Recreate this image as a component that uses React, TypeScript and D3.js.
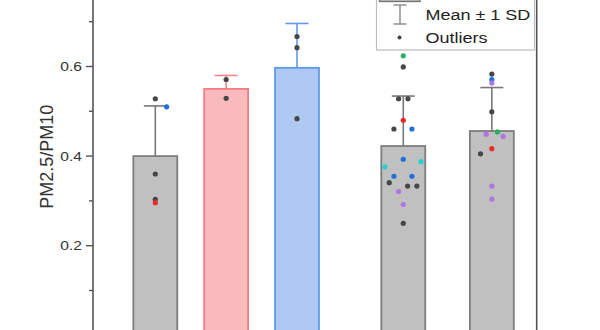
import React from "react";
import * as d3 from "d3";

// ---- data ----
const categories = ["G1", "G2", "G3", "G4", "G5"];
const categoryX = [1, 2, 3, 4.5, 5.75];
const means = [0.4, 0.55, 0.597, 0.4225, 0.456];
const sds = [0.112, 0.03, 0.099, 0.1115, 0.097];
const yTicks = [0, 0.2, 0.4, 0.6];
const yMinorTicks = [0.1, 0.3, 0.5, 0.7];
const legendLabels = ["Mean ± 1 SD", "Outliers"];

// points: [category index, value, x offset (axis units), colour key]
const points: [number, number, number, string][] = [
  [0, 0.528, 0, "k"],
  [0, 0.51, 0.16, "b"],
  [0, 0.36, 0, "k"],
  [0, 0.3035, 0, "k"],
  [0, 0.296, 0, "r"],
  [1, 0.571, 0, "k"],
  [1, 0.529, 0, "k"],
  [2, 0.667, 0, "k"],
  [2, 0.642, 0, "k"],
  [2, 0.4835, 0, "k"],
  [3, 0.624, 0, "g"],
  [3, 0.599, 0, "k"],
  [3, 0.528, -0.066, "k"],
  [3, 0.528, 0.066, "k"],
  [3, 0.48, 0, "r"],
  [3, 0.4605, -0.132, "k"],
  [3, 0.4605, 0.122, "b"],
  [3, 0.393, 0, "b"],
  [3, 0.376, -0.26, "c"],
  [3, 0.3875, 0.25, "c"],
  [3, 0.355, -0.132, "b"],
  [3, 0.355, 0.122, "b"],
  [3, 0.3406, -0.198, "k"],
  [3, 0.333, 0.061, "k"],
  [3, 0.333, 0.192, "k"],
  [3, 0.321, -0.066, "p"],
  [3, 0.292, 0, "p"],
  [3, 0.25, 0, "k"],
  [4, 0.583, 0, "k"],
  [4, 0.5705, 0, "b"],
  [4, 0.563, 0, "p"],
  [4, 0.499, 0, "k"],
  [4, 0.449, -0.08, "p"],
  [4, 0.454, 0.08, "g"],
  [4, 0.444, 0.16, "p"],
  [4, 0.4165, 0, "r"],
  [4, 0.405, -0.16, "k"],
  [4, 0.333, 0, "p"],
  [4, 0.304, 0, "p"],
];

const barFill = ["#c0c0c0", "#f9babd", "#aecaf3", "#c0c0c0", "#c0c0c0"];
const barStroke = ["#7d7d7d", "#f27c82", "#5f98ea", "#7d7d7d", "#7d7d7d"];
const errStroke = ["#777777", "#f4868b", "#5f98ea", "#777777", "#777777"];
const dotColor: Record<string, string> = {
  k: "#464646",
  b: "#1f6fe0",
  r: "#f02828",
  g: "#24b060",
  c: "#26cfd2",
  p: "#b074e4",
};

export default function App() {
  const x = d3.scaleLinear().domain([1, 2]).range([155.3, 226.15]);
  const y = d3.scaleLinear().domain([0, 0.8]).range([335.3, 335.3 - 0.8 * 448]);
  const unit = x(2) - x(1);
  const barW = 0.62 * unit;
  const capW = 23;
  const axisX = 93;
  const font = "'Liberation Sans', Arial, Helvetica, sans-serif";

  return (
    <svg
      width={600}
      height={330}
      style={{ position: "absolute", left: 0, top: 0 }}
      fontFamily={font}
    >
      <rect x={0} y={0} width={600} height={330} fill="#ffffff" />

      {/* bars */}
      {categories.map((c, i) => (
        <g key={c}>
          <line
            x1={x(categoryX[i])}
            x2={x(categoryX[i])}
            y1={y(means[i])}
            y2={y(means[i] + sds[i])}
            stroke={errStroke[i]}
            strokeWidth={1.6}
          />
          <line
            x1={x(categoryX[i]) - capW / 2}
            x2={x(categoryX[i]) + capW / 2}
            y1={y(means[i] + sds[i])}
            y2={y(means[i] + sds[i])}
            stroke={errStroke[i]}
            strokeWidth={1.6}
          />
          <rect
            x={x(categoryX[i]) - barW / 2}
            y={y(means[i])}
            width={barW}
            height={y(0) - y(means[i])}
            fill={barFill[i]}
            stroke={barStroke[i]}
            strokeWidth={1.8}
          />
        </g>
      ))}

      {/* points */}
      {points.map(([ci, v, dx, col], k) => (
        <circle
          key={k}
          cx={x(categoryX[ci] + dx)}
          cy={y(v)}
          r={2.6}
          fill={dotColor[col]}
        />
      ))}

      {/* y axis */}
      <line x1={axisX} x2={axisX} y1={0} y2={340} stroke="#555" strokeWidth={1.6} />
      {yTicks.map((t) => (
        <g key={t}>
          <line x1={axisX - 7} x2={axisX} y1={y(t)} y2={y(t)} stroke="#555" strokeWidth={1.4} />
          <text
            transform={`translate(82,${y(t)}) scale(1.2,1)`}
            textAnchor="end"
            dy="0.36em"
            fontSize={13}
            fill="#333"
          >
            {t.toFixed(1)}
          </text>
        </g>
      ))}
      {yMinorTicks.map((t) => (
        <line key={t} x1={axisX - 4} x2={axisX} y1={y(t)} y2={y(t)} stroke="#555" strokeWidth={1.4} />
      ))}
      <text
        transform="translate(53,156.7) rotate(-90)"
        textAnchor="middle"
        fontSize={18}
        fill="#333"
      >
        PM2.5/PM10
      </text>

      {/* right frame */}
      <line x1={536.7} x2={536.7} y1={0} y2={330} stroke="#555" strokeWidth={1.6} />

      {/* legend */}
      <rect x={376.5} y={-30} width={158} height={80} fill="#fff" stroke="#bdbdbd" strokeWidth={1.2} />
      <rect x={379.5} y={-12} width={40.5} height={13.5} fill="#c0c0c0" stroke="#777" strokeWidth={1.4} />
      <line x1={400} x2={400} y1={5} y2={24} stroke="#888" strokeWidth={1.4} />
      <line x1={393.5} x2={406.5} y1={5} y2={5} stroke="#888" strokeWidth={1.4} />
      <line x1={393.5} x2={406.5} y1={24} y2={24} stroke="#888" strokeWidth={1.4} />
      <text transform="translate(425.5,20) scale(1.2,1)" fontSize={15} fill="#222">
        {legendLabels[0]}
      </text>
      <circle cx={399.5} cy={37.5} r={2} fill="#444" />
      <text transform="translate(425.5,43) scale(1.2,1)" fontSize={15} fill="#222">
        {legendLabels[1]}
      </text>
    </svg>
  );
}
